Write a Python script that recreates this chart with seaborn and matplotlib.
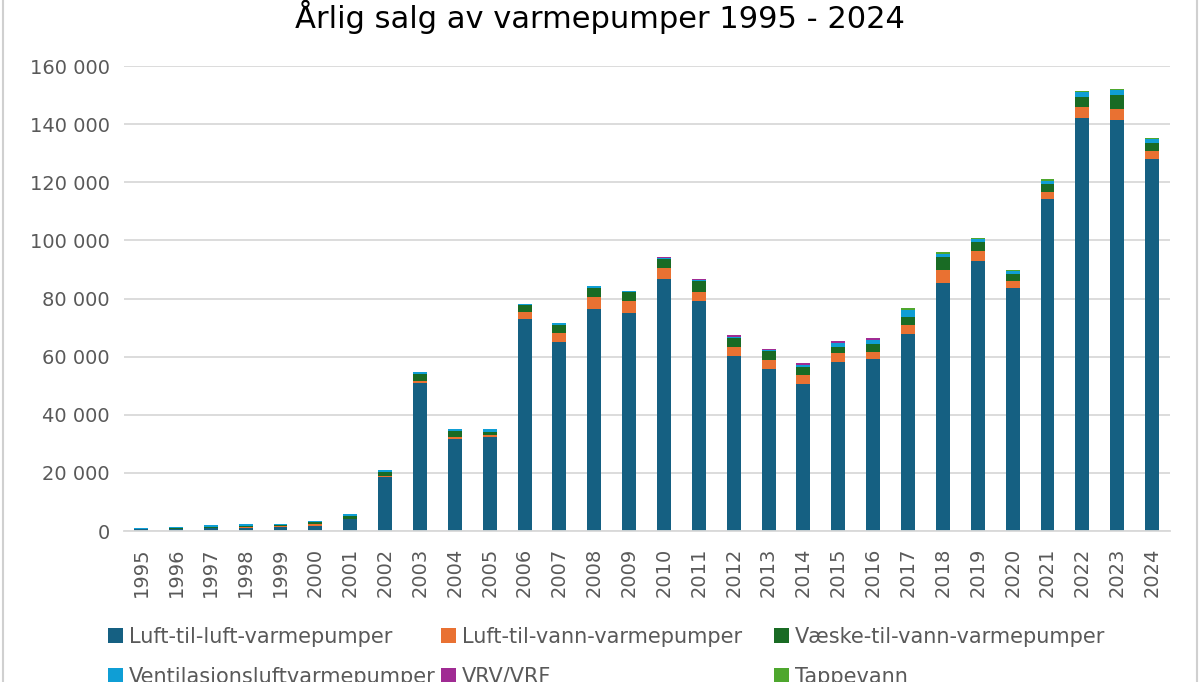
import matplotlib
matplotlib.use("Agg")
import numpy as np
import pandas as pd
import matplotlib.pyplot as plt
import seaborn as sns
from matplotlib.patches import Patch, Rectangle
from matplotlib.ticker import FuncFormatter


# =========================
# Data
# =========================

years = [str(y) for y in range(1995, 2025)]

luft_luft = [600, 700, 1000, 1000, 1500, 1700, 4000, 18600, 51000, 31800,
             32200, 72900, 64900, 76400, 75000, 86900, 79200, 60400, 55800, 50600,
             58200, 59200, 67700, 85400, 92900, 83500, 114300, 142200, 141500, 127900]
luft_vann = [0, 0, 0, 500, 100, 700, 300, 400, 700, 700,
             700, 2500, 3300, 4000, 4100, 3500, 3000, 3000, 3000, 3100,
             2900, 2300, 3100, 4600, 3500, 2600, 2300, 3600, 3800, 2800]
vaeske_vann = [200, 300, 500, 300, 600, 600, 1000, 1400, 2500, 1800,
               1300, 2500, 2700, 3400, 3100, 3200, 3900, 3200, 3000, 2600,
               2400, 2800, 2700, 4200, 3100, 2500, 3000, 3600, 4600, 2900]
ventilasjon = [300, 300, 700, 600, 200, 500, 600, 700, 600, 800,
               900, 300, 700, 600, 500, 300, 300, 300, 600, 900,
               1300, 1600, 2700, 1300, 1100, 1000, 1000, 1800, 1900, 1400]
vrv_vrf = [0, 0, 0, 0, 0, 0, 0, 0, 0, 0,
           0, 0, 0, 0, 0, 300, 400, 400, 400, 500,
           600, 400, 0, 0, 0, 0, 0, 0, 0, 0]
tappevann = [0, 0, 0, 0, 0, 0, 0, 0, 0, 0,
             0, 0, 0, 0, 0, 0, 0, 0, 0, 0,
             0, 0, 400, 400, 400, 400, 400, 300, 300, 300]

series_names = ["Luft-til-luft-varmepumper", "Luft-til-vann-varmepumper",
                "Væske-til-vann-varmepumper", "Ventilasjonsluftvarmepumper",
                "VRV/VRF", "Tappevann"]
colors = ["#156082", "#E97132", "#196B24", "#0F9ED5", "#A02B93", "#4EA72E"]

df = pd.DataFrame({
    "År": years,
    series_names[0]: luft_luft,
    series_names[1]: luft_vann,
    series_names[2]: vaeske_vann,
    series_names[3]: ventilasjon,
    series_names[4]: vrv_vrf,
    series_names[5]: tappevann,
})
cum = df[series_names].cumsum(axis=1)


# =========================
# Plot
# =========================

sns.set_theme(style="white")
plt.rcParams["font.family"] = ["DejaVu Sans"]

fig = plt.figure(figsize=(12, 6.82), dpi=100)
ax = fig.add_axes([0.103, 0.2214, 0.8716, 0.6816])

# stacked bars: draw cumulative totals from the top series down
for name, col in zip(reversed(series_names), reversed(colors)):
    sns.barplot(x=df["År"], y=cum[name], color=col, width=0.4,
                saturation=1, errorbar=None, linewidth=0, ax=ax)

ax.set_ylim(0, 160000)
ax.set_xlim(-0.5, 29.5)
ax.set_yticks(range(0, 160001, 20000))
ax.yaxis.set_major_formatter(FuncFormatter(lambda v, p: f"{int(v):,}".replace(",", " ")))
ax.set_xlabel("")
ax.set_ylabel("")

ax.yaxis.grid(True, color="#d9d9d9", linewidth=1.3)
ax.set_axisbelow(True)
for s in ["top", "right", "left"]:
    ax.spines[s].set_visible(False)
ax.spines["bottom"].set_color("#d9d9d9")
ax.spines["bottom"].set_linewidth(1.3)

ax.tick_params(axis="y", length=0, pad=10, labelsize=14, labelcolor="#595959")
ax.tick_params(axis="x", length=0, pad=12, labelsize=14, labelcolor="#595959",
               labelrotation=90)

fig.text(0.5, 1 - 17 / 682, "Årlig salg av varmepumper 1995 - 2024",
         ha="center", va="center", fontsize=22, color="#000000")

# legend: three columns at fixed positions, filled row by row
handles = [Patch(facecolor=c, edgecolor="none") for c in colors]
col_x = [108, 441, 774]
for j, x0 in enumerate(col_x):
    fig.legend([handles[j], handles[j + 3]], [series_names[j], series_names[j + 3]],
               loc="upper left", bbox_to_anchor=(x0 / 1200, 1 - 627 / 682),
               ncol=1, frameon=False, fontsize=15, labelcolor="#595959",
               handlelength=0.7, handleheight=0.7, handletextpad=0.3,
               labelspacing=0.95, borderpad=0, borderaxespad=0)

fig.patches.append(Rectangle((0.0025, -0.05), 0.995, 1.2, transform=fig.transFigure,
                             fill=False, edgecolor="#d0d0d0", linewidth=1.5))

fig.savefig("out.png", dpi=100)
